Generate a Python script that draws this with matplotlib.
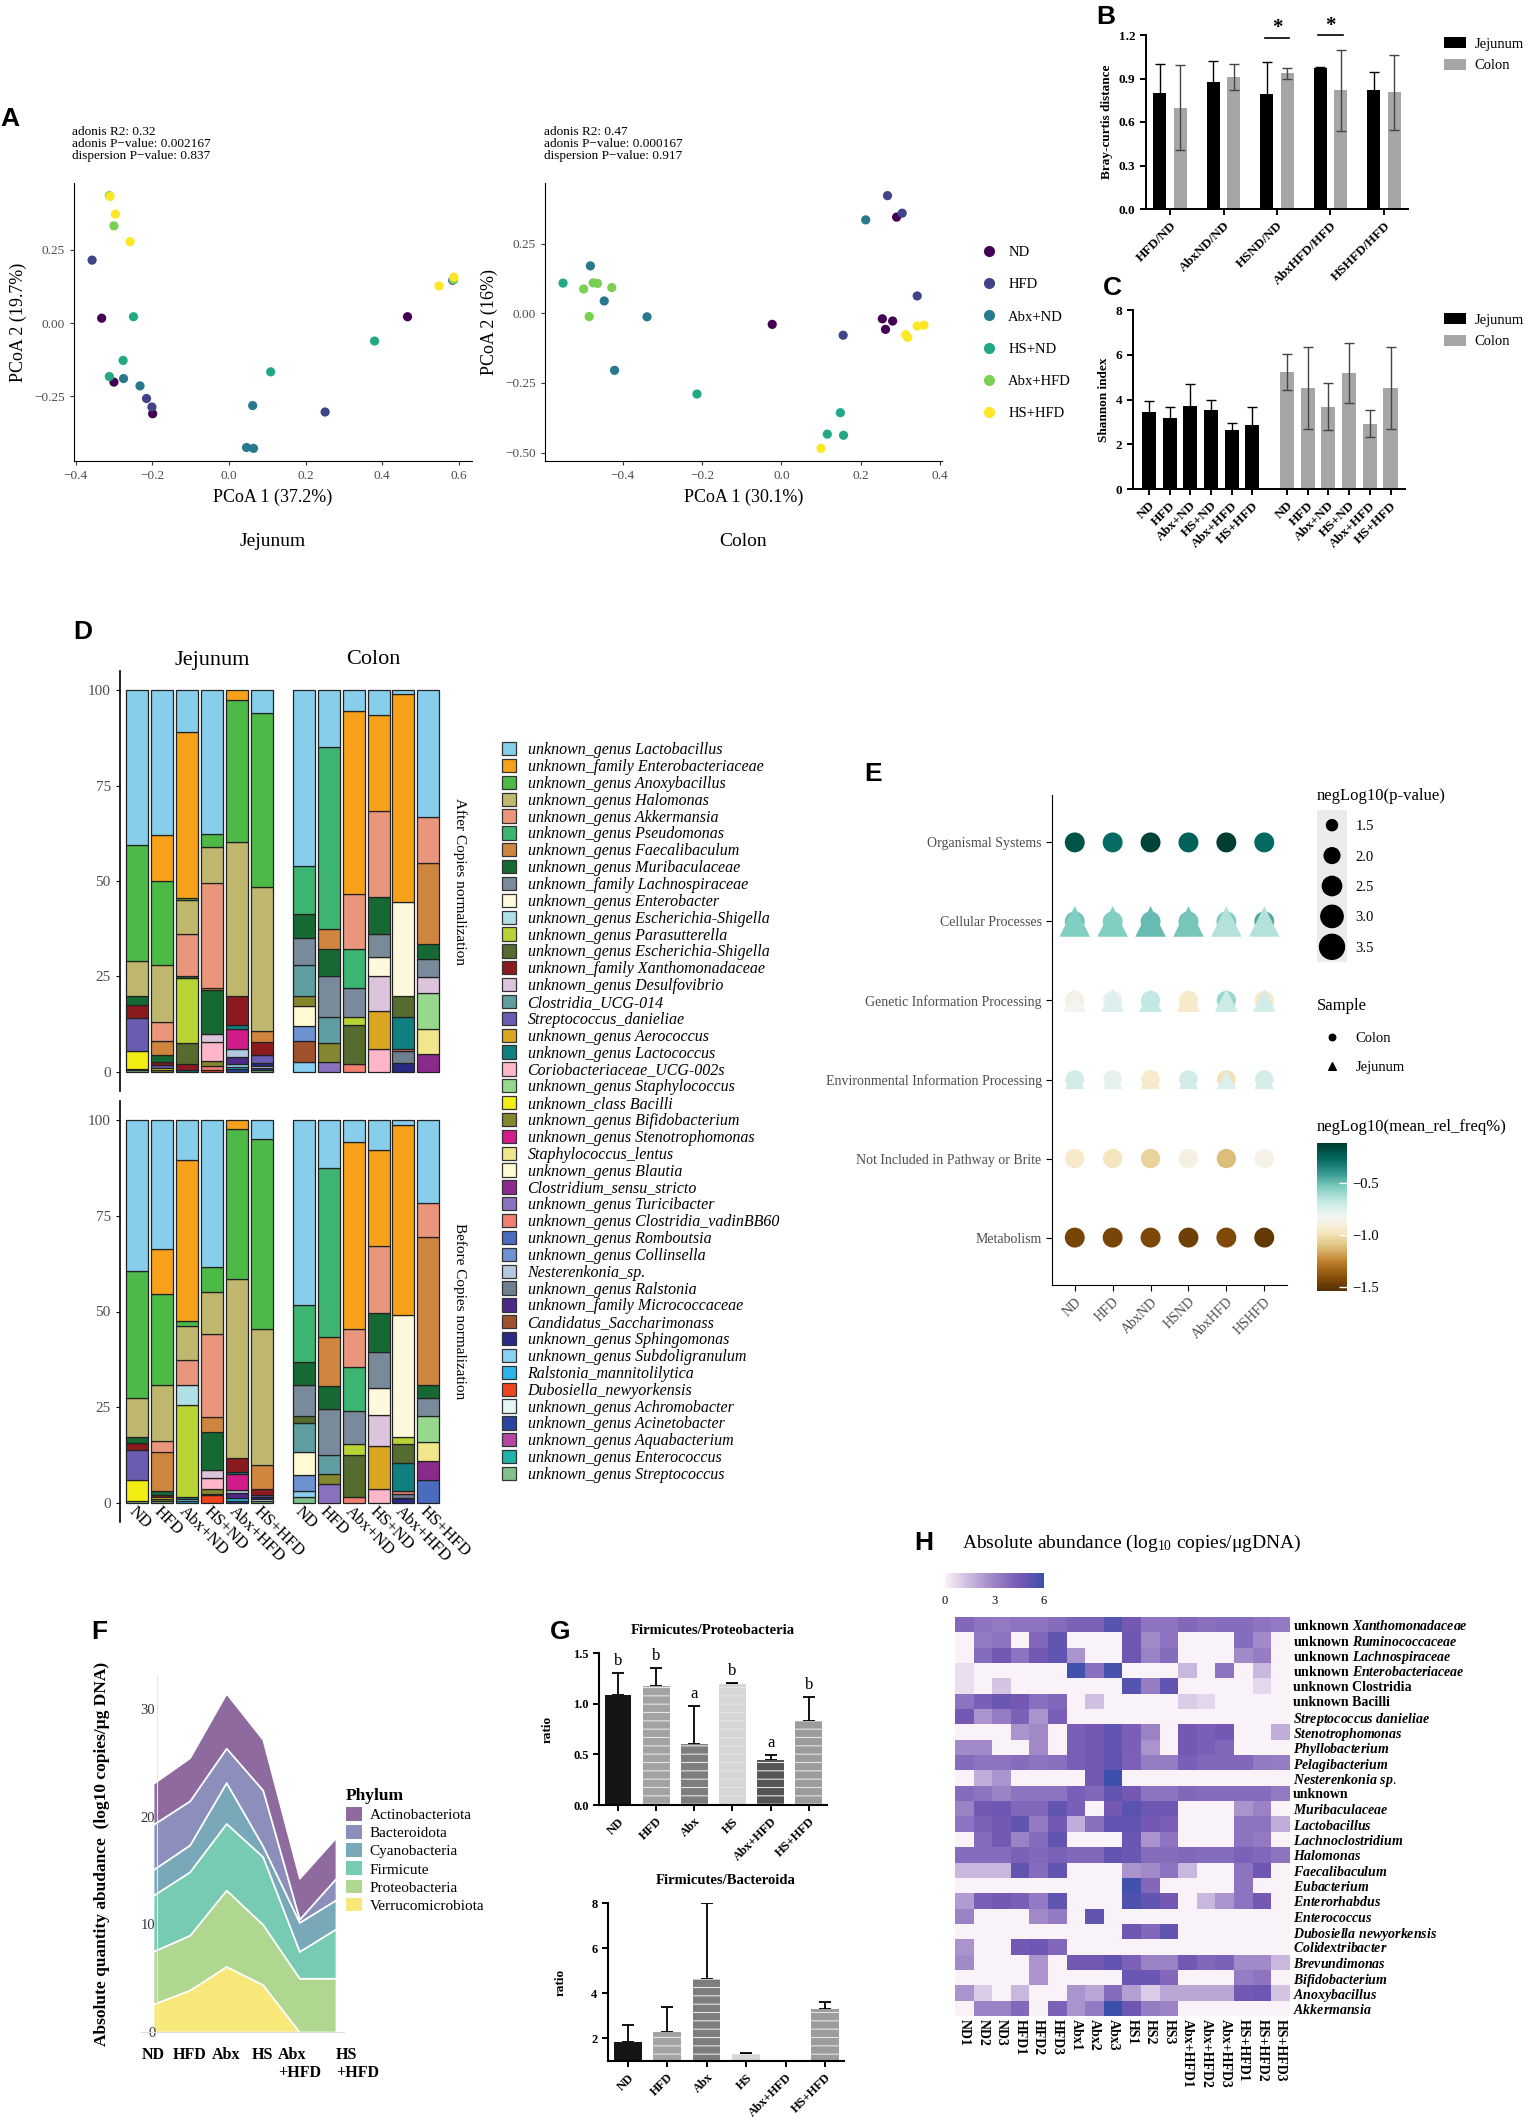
import numpy as np
import matplotlib
matplotlib.use('Agg')
import matplotlib.pyplot as plt
from matplotlib.colors import LinearSegmentedColormap, Normalize
from matplotlib.cm import ScalarMappable
from matplotlib.lines import Line2D
from matplotlib.patches import Rectangle

plt.rcParams['font.family'] = ['Liberation Serif', 'DejaVu Serif']
plt.rcParams['mathtext.fontset'] = 'custom'
plt.rcParams['mathtext.rm'] = 'Liberation Serif'
plt.rcParams['mathtext.it'] = 'Liberation Serif:italic:bold'
plt.rcParams['mathtext.bf'] = 'Liberation Serif:bold'
plt.rcParams['hatch.linewidth'] = 0.8

W, H = 1529, 2118

# ---------------- A: PCoA ----------------
PCOA_GROUPS = ['ND', 'HFD', 'Abx+ND', 'HS+ND', 'Abx+HFD', 'HS+HFD']
JEJ_PC1 = {
    'ND': [-0.332, -0.300, -0.199, 0.466],
    'HFD': [-0.357, -0.215, -0.201, 0.251, 0.584],
    'Abx+ND': [-0.275, -0.232, 0.046, 0.064, 0.062],
    'HS+ND': [-0.249, -0.276, -0.312, 0.109, 0.380],
    'Abx+HFD': [-0.312, -0.300, 0.586],
    'HS+HFD': [-0.310, -0.296, -0.258, 0.548, 0.587],
}
JEJ_PC2 = {
    'ND': [0.017, -0.201, -0.309, 0.022],
    'HFD': [0.215, -0.257, -0.286, -0.303, 0.146],
    'Abx+ND': [-0.189, -0.214, -0.424, -0.427, -0.281],
    'HS+ND': [0.022, -0.127, -0.182, -0.166, -0.061],
    'Abx+HFD': [0.435, 0.332, 0.148],
    'HS+HFD': [0.432, 0.372, 0.278, 0.127, 0.157],
}
COL_PC1 = {
    'ND': [0.291, 0.255, 0.281, 0.263, -0.023],
    'HFD': [0.268, 0.305, 0.343, 0.156],
    'Abx+ND': [0.213, -0.482, -0.447, -0.339, -0.421],
    'HS+ND': [-0.551, -0.213, 0.149, 0.116, 0.157],
    'Abx+HFD': [-0.499, -0.475, -0.464, -0.428, -0.485],
    'HS+HFD': [0.343, 0.360, 0.314, 0.319, 0.100],
}
COL_PC2 = {
    'ND': [0.345, -0.020, -0.028, -0.058, -0.040],
    'HFD': [0.422, 0.359, 0.062, -0.079],
    'Abx+ND': [0.335, 0.170, 0.044, -0.013, -0.205],
    'HS+ND': [0.108, -0.290, -0.357, -0.434, -0.438],
    'Abx+HFD': [0.087, 0.109, 0.107, 0.092, -0.012],
    'HS+HFD': [-0.046, -0.043, -0.077, -0.087, -0.485],
}
JEJ_STATS = 'adonis R2: 0.32\nadonis P\u2212value: 0.002167\ndispersion P\u2212value: 0.837'
COL_STATS = 'adonis R2: 0.47\nadonis P\u2212value: 0.000167\ndispersion P\u2212value: 0.917'

# ---------------- B: Bray-Curtis ----------------
B_PAIRS = ['HFD/ND', 'AbxND/ND', 'HSND/ND', 'AbxHFD/HFD', 'HSHFD/HFD']
B_JEJ = [0.80, 0.875, 0.795, 0.97, 0.82]
B_JEJ_ERR = [0.20, 0.145, 0.22, 0.01, 0.125]
B_COL = [0.70, 0.91, 0.935, 0.82, 0.805]
B_COL_ERR = [0.29, 0.09, 0.037, 0.28, 0.26]
B_SIG_GROUPS = [2, 3]
B_SIG_Y = [1.18, 1.20]

# ---------------- C: Shannon ----------------
C_GROUPS = ['ND', 'HFD', 'Abx+ND', 'HS+ND', 'Abx+HFD', 'HS+HFD']
C_JEJ = [3.46, 3.16, 3.70, 3.55, 2.65, 2.86]
C_JEJ_ERR = [0.47, 0.49, 0.98, 0.41, 0.29, 0.79]
C_COL = [5.22, 4.51, 3.68, 5.18, 2.92, 4.51]
C_COL_ERR = [0.80, 1.84, 1.04, 1.34, 0.60, 1.84]

# ---------------- D: taxa composition ----------------
D_GROUPS = ['ND', 'HFD', 'Abx+ND', 'HS+ND', 'Abx+HFD', 'HS+HFD']
TAXA_KEYS = ['Lacto', 'Enterobac', 'Anoxy', 'Halo', 'Akk', 'Pseudo', 'Faecali', 'Muri',
             'Lachno', 'Enterobacter', 'ES1', 'Parasut', 'ES2', 'Xantho', 'Desulfo',
             'ClostUCG', 'StrepDan', 'Aerococ', 'Lactococ', 'Corio', 'Staph', 'Bacilli',
             'Bifido', 'Steno', 'StaphLen', 'Blautia', 'ClostSS', 'Turici', 'Vadin',
             'Rombout', 'Collin', 'Nester', 'Ralst', 'Micrococ', 'Sacchar', 'Sphingo',
             'Subdoli', 'RalstMann', 'Dubos', 'Achromo', 'Acineto', 'Aquab', 'Enteroc',
             'Strepto']
TAXA_NAMES = [
    'unknown_genus Lactobacillus', 'unknown_family Enterobacteriaceae',
    'unknown_genus Anoxybacillus', 'unknown_genus Halomonas', 'unknown_genus Akkermansia',
    'unknown_genus Pseudomonas', 'unknown_genus Faecalibaculum',
    'unknown_genus Muribaculaceae', 'unknown_family Lachnospiraceae',
    'unknown_genus Enterobacter', 'unknown_genus Escherichia-Shigella',
    'unknown_genus Parasutterella', 'unknown_genus Escherichia-Shigella',
    'unknown_family Xanthomonadaceae', 'unknown_genus Desulfovibrio', 'Clostridia_UCG-014',
    'Streptococcus_danieliae', 'unknown_genus Aerococcus', 'unknown_genus Lactococcus',
    'Coriobacteriaceae_UCG-002s', 'unknown_genus Staphylococcus', 'unknown_class Bacilli',
    'unknown_genus Bifidobacterium', 'unknown_genus Stenotrophomonas',
    'Staphylococcus_lentus', 'unknown_genus Blautia', 'Clostridium_sensu_stricto',
    'unknown_genus Turicibacter', 'unknown_genus Clostridia_vadinBB60',
    'unknown_genus Romboutsia', 'unknown_genus Collinsella', 'Nesterenkonia_sp.',
    'unknown_genus Ralstonia', 'unknown_family Micrococcaceae', 'Candidatus_Saccharimonass',
    'unknown_genus Sphingomonas', 'unknown_genus Subdoligranulum',
    'Ralstonia_mannitolilytica', 'Dubosiella_newyorkensis', 'unknown_genus Achromobacter',
    'unknown_genus Acinetobacter', 'unknown_genus Aquabacterium',
    'unknown_genus Enterococcus', 'unknown_genus Streptococcus',
]
TAXA_COLORS = [
    '#87ceeb', '#f7a11a', '#4dba48', '#c0b76e', '#ea967c', '#3cb572', '#d0853f', '#176934',
    '#798a9a', '#fff8dc', '#b0e0e6', '#b7d334', '#556b2f', '#8b1a1e', '#dcc4dc', '#5f9ea0',
    '#6a5cb0', '#daa520', '#0e8080', '#ffb6c8', '#98d88e', '#f2ee14', '#86862e', '#d21c8a',
    '#f0e68c', '#fffad2', '#8c2a8c', '#8a72c0', '#f28070', '#4a6cbe', '#6c92d2', '#b4c8e0',
    '#6e7f90', '#4b2a88', '#a0522d', '#2a2a86', '#8ad0f0', '#2ab4ec', '#f0441e', '#e6f6f6',
    '#2a44a2', '#b446a8', '#1eb4ac', '#80c28a',
]
D_JEJ_AFTER = {
    'Lacto': [40.5, 38.0, 11.0, 37.6, 0.0, 6.0],
    'Enterobac': [0, 12.0, 43.5, 0, 2.5, 0],
    'Anoxy': [30.5, 22.0, 0.5, 3.4, 37.2, 45.5],
    'Halo': [9.2, 15.0, 9.0, 9.6, 40.5, 37.7],
    'Akk': [0, 5.0, 11.0, 27.4, 0, 0],
    'Faecali': [0, 3.7, 0, 0.6, 0, 2.9],
    'Muri': [2.4, 1.6, 0.5, 11.4, 0, 0],
    'Parasut': [0, 0, 17.0, 0, 0, 0],
    'ES2': [0, 0, 5.3, 0, 0, 0],
    'Xantho': [3.4, 0.8, 1.7, 0, 7.4, 3.6],
    'Desulfo': [0, 0, 0, 2.1, 0, 0],
    'StrepDan': [8.4, 0.8, 0, 0, 0, 1.9],
    'Lactococ': [0, 0, 0.5, 0, 1.1, 0],
    'Corio': [0, 0, 0, 5.0, 0, 0],
    'Bacilli': [4.8, 0.5, 0, 0, 0, 0],
    'Bifido': [0, 0.6, 0, 1.3, 0, 0],
    'Steno': [0, 0, 0, 0, 5.3, 0],
    'Vadin': [0, 0, 0, 1.0, 0, 0],
    'Nester': [0, 0, 0, 0, 2.0, 0],
    'Micrococ': [0, 0, 0, 0, 2.0, 0],
    'Sphingo': [0.4, 0, 0, 0, 0, 0.8],
    'Subdoli': [0, 0, 0, 0, 0.6, 0],
    'RalstMann': [0, 0, 0, 0, 0.7, 0],
    'Dubos': [0, 0, 0, 0.6, 0, 0],
    'Achromo': [0, 0, 0, 0, 0, 0.6],
    'Acineto': [0, 0, 0, 0, 0.7, 0.5],
    'Strepto': [0.4, 0, 0, 0, 0, 0.5],
}
D_COL_AFTER = {
    'Lacto': [46.0, 15.0, 5.5, 6.5, 1.1, 33.3],
    'Enterobac': [0, 0, 47.9, 25.2, 54.4, 0],
    'Akk': [0, 0, 14.4, 22.5, 0, 12.0],
    'Pseudo': [12.7, 47.5, 10.2, 0, 0, 0],
    'Faecali': [0, 5.3, 0, 0, 0, 21.3],
    'Muri': [6.3, 7.0, 0, 9.6, 0, 3.7],
    'Lachno': [7.0, 10.7, 7.5, 6.2, 0, 4.8],
    'Enterobacter': [0, 0, 0, 4.8, 24.5, 0],
    'Parasut': [0, 0, 2.1, 0, 0, 0],
    'ES2': [0, 0, 10.3, 0, 5.5, 0],
    'Desulfo': [0, 0, 0, 9.2, 0, 4.3],
    'ClostUCG': [8.2, 6.9, 0, 0, 0, 0],
    'Aerococ': [0, 0, 0, 10.0, 0, 0],
    'Lactococ': [0, 0, 0, 0, 8.5, 0],
    'Corio': [0, 0, 0, 6.0, 0, 0],
    'Staph': [0, 0, 0, 0, 0, 9.3],
    'Bifido': [2.6, 4.9, 0, 0, 0, 0],
    'StaphLen': [0, 0, 0, 0, 0, 6.5],
    'Blautia': [5.2, 0, 0, 0, 0, 0],
    'ClostSS': [0, 0, 0, 0, 0, 4.8],
    'Turici': [0, 2.7, 0, 0, 0, 0],
    'Vadin': [0, 0, 2.1, 0, 0.5, 0],
    'Collin': [4.0, 0, 0, 0, 0, 0],
    'Ralst': [0, 0, 0, 0, 3.2, 0],
    'Sacchar': [5.3, 0, 0, 0, 0, 0],
    'Sphingo': [0, 0, 0, 0, 2.3, 0],
    'Subdoli': [2.7, 0, 0, 0, 0, 0],
}
D_JEJ_BEFORE = {
    'Lacto': [39.4, 33.6, 10.5, 38.4, 0, 4.8],
    'Enterobac': [0, 11.7, 42.1, 0, 2.4, 0],
    'Anoxy': [33.3, 23.8, 1.1, 6.4, 39.2, 49.7],
    'Halo': [10.1, 14.8, 9.0, 11.0, 46.7, 35.7],
    'Akk': [0, 2.9, 6.4, 21.7, 0, 0],
    'Faecali': [0, 10.0, 0, 4.0, 0, 6.1],
    'Muri': [1.6, 1.1, 0, 10.0, 0, 0],
    'ES1': [0, 0, 5.2, 0, 0, 0],
    'Parasut': [0, 0, 24.1, 0, 0, 0],
    'Xantho': [1.9, 0.5, 0, 0, 3.7, 1.6],
    'Desulfo': [0, 0, 0, 2.1, 0, 0],
    'StrepDan': [7.6, 0, 0, 0, 0, 0.6],
    'Lactococ': [0, 0, 0.5, 0, 0.4, 0],
    'Corio': [0, 0, 0, 2.9, 0, 0],
    'Bacilli': [5.6, 0.6, 0, 0, 0, 0],
    'Bifido': [0, 0.5, 0, 1.1, 0, 0],
    'Steno': [0, 0, 0, 0, 4.3, 0],
    'Vadin': [0, 0, 0, 0.3, 0, 0],
    'Nester': [0, 0, 0, 0, 0.8, 0],
    'Micrococ': [0, 0, 0, 0, 1.3, 0],
    'Sphingo': [0, 0, 0, 0, 0, 0.5],
    'Subdoli': [0, 0, 0.5, 0, 0, 0],
    'RalstMann': [0, 0, 0.6, 0, 0.6, 0],
    'Dubos': [0, 0, 0, 2.1, 0, 0],
    'Achromo': [0, 0, 0, 0, 0, 0.5],
    'Acineto': [0, 0, 0, 0, 0.6, 0],
    'Strepto': [0.5, 0.5, 0, 0, 0, 0.5],
}
D_COL_BEFORE = {
    'Lacto': [48.2, 12.4, 5.6, 7.9, 1.4, 21.7],
    'Enterobac': [0, 0, 48.9, 24.9, 49.6, 0],
    'Akk': [0, 0, 10.1, 17.7, 0, 8.8],
    'Pseudo': [15.1, 44.2, 11.3, 0, 0, 0],
    'Faecali': [0, 12.9, 0, 0, 0, 38.6],
    'Muri': [5.8, 6.1, 0, 10.1, 0, 3.6],
    'Lachno': [8.1, 12.0, 8.8, 9.3, 0, 4.5],
    'Enterobacter': [0, 0, 0, 7.1, 31.8, 0],
    'Parasut': [0, 0, 2.9, 0, 1.9, 0],
    'ES2': [1.9, 0, 10.8, 0, 4.8, 0],
    'Desulfo': [0, 0, 0, 8.2, 0, 0],
    'ClostUCG': [7.6, 4.8, 0, 0, 0, 0],
    'Aerococ': [0, 0, 0, 11.1, 0, 0],
    'Lactococ': [0, 0, 0, 0, 7.3, 0],
    'Corio': [0, 0, 0, 3.7, 0, 0],
    'Staph': [0, 0, 0, 0, 0, 7.0],
    'Bifido': [0, 2.8, 0, 0, 0, 0],
    'StaphLen': [0, 0, 0, 0, 0, 4.9],
    'Blautia': [6.1, 0, 0, 0, 0, 0],
    'ClostSS': [0, 0, 0, 0, 0, 4.8],
    'Turici': [0, 4.8, 0, 0, 0, 0],
    'Vadin': [0, 0, 1.6, 0, 0.8, 0],
    'Rombout': [0, 0, 0, 0, 0, 6.1],
    'Collin': [4.0, 0, 0, 0, 0, 0],
    'Ralst': [0, 0, 0, 0, 1.2, 0],
    'Sphingo': [0, 0, 0, 0, 1.2, 0],
    'Subdoli': [1.6, 0, 0, 0, 0, 0],
    'Strepto': [1.6, 0, 0, 0, 0, 0],
}

# ---------------- E: KEGG dot plot ----------------
E_CATEGORIES = ['Organismal Systems', 'Cellular Processes', 'Genetic Information Processing',
                'Environmental Information Processing', 'Not Included in Pathway or Brite',
                'Metabolism']
E_GROUPS = ['ND', 'HFD', 'AbxND', 'HSND', 'AbxHFD', 'HSHFD']
E_COLON_FREQ = [
    [-0.20, -0.28, -0.15, -0.25, -0.13, -0.27],
    [-0.52, -0.55, -0.50, -0.52, -0.55, -0.45],
    [-0.88, -0.78, -0.68, -0.95, -0.60, -0.95],
    [-0.72, -0.78, -0.95, -0.72, -1.00, -0.73],
    [-0.95, -0.98, -1.05, -0.88, -1.12, -0.87],
    [-1.45, -1.45, -1.44, -1.47, -1.43, -1.50],
]
E_JEJ_FREQ = [
    [-0.20, -0.28, -0.15, -0.25, -0.13, -0.27],
    [-0.55, -0.55, -0.50, -0.53, -0.65, -0.65],
    [-0.85, -0.75, -0.68, -0.95, -0.70, -0.72],
    [-0.72, -0.78, -0.95, -0.72, -0.75, -0.73],
    [-0.95, -0.98, -1.05, -0.88, -1.12, -0.87],
    [-1.45, -1.45, -1.44, -1.47, -1.43, -1.50],
]
E_COLON_P = [
    [2.6, 2.6, 2.6, 2.6, 2.6, 2.6],
    [2.6, 2.6, 2.6, 2.6, 2.6, 2.6],
    [2.5, 2.5, 2.5, 2.5, 2.5, 2.5],
    [2.4, 2.4, 2.4, 2.4, 2.4, 2.4],
    [2.5, 2.5, 2.5, 2.5, 2.5, 2.5],
    [2.6, 2.6, 2.6, 2.6, 2.6, 2.6],
]
E_JEJ_P = [
    [1.5, 1.5, 1.5, 1.5, 1.5, 1.5],
    [3.5, 3.5, 3.5, 3.5, 3.5, 3.5],
    [2.4, 2.4, 2.4, 2.4, 2.4, 2.4],
    [2.0, 2.0, 2.0, 2.0, 2.0, 2.0],
    [1.5, 1.5, 1.5, 1.5, 1.5, 1.5],
    [1.5, 1.5, 1.5, 1.5, 1.5, 1.5],
]
E_SIZE_BREAKS = [1.5, 2.0, 2.5, 3.0, 3.5]

# ---------------- F: phylum abundance ----------------
F_GROUPS = ['ND', 'HFD', 'Abx', 'HS', 'Abx\n+HFD', 'HS\n+HFD']
F_PHYLA = ['Actinobacteriota', 'Bacteroidota', 'Cyanobacteria', 'Firmicute',
           'Proteobacteria', 'Verrucomicrobiota']
F_ACTINO = [3.8, 4.0, 5.1, 4.7, 3.8, 3.8]
F_BACTERO = [4.2, 4.1, 3.2, 5.2, 0.3, 2.0]
F_CYANO = [2.4, 2.5, 3.8, 1.0, 2.7, 2.7]
F_FIRMI = [5.2, 5.9, 6.2, 6.3, 2.5, 4.6]
F_PROTEO = [4.9, 5.1, 7.1, 5.6, 5.0, 5.0]
F_VERRUCO = [2.6, 3.9, 6.1, 4.4, 0.0, 0.0]
F_COLORS = ['#8e6a9e', '#8c8fbc', '#79a9b9', '#77cbb3', '#b0d78f', '#f7e879']

# ---------------- G: ratios ----------------
G_GROUPS = ['ND', 'HFD', 'Abx', 'HS', 'Abx+HFD', 'HS+HFD']
G_FP = [1.09, 1.17, 0.60, 1.19, 0.44, 0.83]
G_FP_ERR = [0.21, 0.18, 0.38, 0.01, 0.05, 0.24]
G_FP_LETTERS = ['b', 'b', 'a', 'b', 'a', 'b']
G_FB = [1.82, 2.25, 4.62, 1.31, 0.0, 3.30]
G_FB_ERR = [0.77, 1.12, 3.40, 0.03, 0.0, 0.29]
G_COLORS = ['#151515', '#a3a3a3', '#7d7d7d', '#d6d6d6', '#555555', '#9c9c9c']

# ---------------- H: heatmap ----------------
H_SAMPLES = ['ND1', 'ND2', 'ND3', 'HFD1', 'HFD2', 'HFD3', 'Abx1', 'Abx2', 'Abx3',
             'HS1', 'HS2', 'HS3', 'Abx+HFD1', 'Abx+HFD2', 'Abx+HFD3',
             'HS+HFD1', 'HS+HFD2', 'HS+HFD3']
H_TAXA = [
    'unknown $\\mathit{Xanthomonadaceae}$', 'unknown $\\mathit{Ruminococcaceae}$',
    'unknown $\\mathit{Lachnospiraceae}$', 'unknown $\\mathit{Enterobacteriaceae}$',
    'unknown Clostridia', 'unknown Bacilli', '$\\mathit{Streptococcus\\ danieliae}$',
    '$\\mathit{Stenotrophomonas}$', '$\\mathit{Phyllobacterium}$', '$\\mathit{Pelagibacterium}$',
    '$\\mathit{Nesterenkonia\\ sp.}$', 'unknown', '$\\mathit{Muribaculaceae}$',
    '$\\mathit{Lactobacillus}$', '$\\mathit{Lachnoclostridium}$', '$\\mathit{Halomonas}$',
    '$\\mathit{Faecalibaculum}$', '$\\mathit{Eubacterium}$', '$\\mathit{Enterorhabdus}$',
    '$\\mathit{Enterococcus}$', '$\\mathit{Dubosiella\\ newyorkensis}$',
    '$\\mathit{Colidextribacter}$', '$\\mathit{Brevundimonas}$', '$\\mathit{Bifidobacterium}$',
    '$\\mathit{Anoxybacillus}$', '$\\mathit{Akkermansia}$',
]
H_VALUES = [
    [4.0, 3.5, 3.3, 3.5, 3.5, 3.8, 4.2, 4.2, 5.3, 4.5, 3.5, 3.5, 4.0, 3.7, 3.8, 3.8, 3.5, 3.3],
    [0.0, 3.3, 3.5, 0.0, 4.0, 5.0, 0.0, 0.0, 0.0, 4.7, 2.8, 3.5, 0.0, 0.0, 0.0, 3.8, 2.8, 0.0],
    [0.0, 3.8, 4.5, 3.5, 4.5, 5.0, 2.5, 0.0, 0.0, 4.7, 3.0, 3.8, 0.0, 0.0, 0.0, 2.8, 3.2, 0.0],
    [0.5, 0.0, 0.0, 0.0, 0.0, 0.0, 5.8, 3.7, 5.7, 0.0, 0.0, 0.0, 1.5, 0.0, 3.5, 0.0, 1.5, 0.0],
    [0.5, 0.0, 1.2, 0.0, 0.0, 0.0, 0.0, 0.0, 0.0, 5.3, 3.2, 5.0, 0.0, 0.0, 0.0, 0.0, 0.7, 0.0],
    [3.5, 4.3, 4.8, 4.5, 3.7, 4.0, 0.0, 1.3, 0.0, 0.0, 0.0, 0.0, 1.0, 0.7, 0.0, 0.0, 0.0, 0.0],
    [4.5, 2.5, 3.2, 4.2, 2.5, 4.3, 0.0, 0.0, 0.0, 0.0, 0.0, 0.0, 0.0, 0.0, 0.0, 0.0, 0.0, 0.0],
    [0.0, 0.0, 0.0, 2.5, 2.8, 0.0, 4.3, 4.5, 5.0, 4.3, 3.0, 0.0, 4.5, 4.3, 4.5, 0.0, 0.0, 1.8],
    [2.8, 2.8, 0.0, 0.0, 2.8, 0.0, 4.3, 4.5, 5.0, 4.3, 2.5, 0.0, 4.5, 4.3, 4.0, 0.0, 0.0, 0.0],
    [3.8, 3.5, 3.5, 3.8, 3.5, 3.7, 4.3, 4.5, 5.0, 4.2, 3.2, 3.2, 4.3, 4.0, 4.0, 4.0, 3.3, 3.2],
    [0.0, 1.8, 2.5, 0.0, 0.0, 0.0, 0.0, 4.5, 6.0, 0.0, 0.0, 0.0, 0.0, 0.0, 0.0, 0.0, 0.0, 0.0],
    [3.8, 3.5, 3.0, 3.5, 3.5, 3.5, 4.3, 4.0, 5.0, 4.5, 3.5, 3.5, 4.0, 3.8, 3.8, 3.8, 3.8, 3.3],
    [3.0, 4.5, 4.7, 4.0, 4.0, 5.0, 4.3, 0.0, 4.5, 5.2, 4.7, 4.7, 0.0, 0.0, 0.0, 2.5, 3.0, 0.0],
    [3.5, 4.2, 4.5, 5.0, 3.3, 4.5, 1.8, 3.7, 5.0, 5.0, 4.5, 4.3, 0.0, 0.0, 0.0, 3.5, 3.5, 1.8],
    [0.0, 3.8, 4.5, 3.0, 3.8, 5.0, 0.0, 0.0, 0.0, 4.8, 2.5, 3.5, 0.0, 0.0, 0.0, 3.5, 3.3, 0.0],
    [3.8, 3.8, 3.8, 4.2, 4.0, 4.2, 4.0, 4.0, 5.0, 4.8, 3.8, 3.8, 4.0, 3.8, 3.8, 4.2, 4.0, 3.5],
    [1.5, 1.5, 1.5, 5.0, 3.8, 5.0, 0.0, 0.0, 0.0, 2.5, 2.8, 3.5, 1.5, 0.0, 0.0, 3.5, 4.7, 0.0],
    [0.0, 0.0, 0.0, 0.0, 0.0, 0.0, 0.0, 0.0, 0.0, 5.8, 4.0, 0.0, 0.0, 0.0, 0.0, 3.5, 0.0, 0.0],
    [2.3, 4.3, 4.5, 4.3, 3.3, 5.0, 0.0, 0.0, 0.0, 5.5, 5.0, 4.5, 0.0, 1.5, 2.5, 3.5, 4.5, 0.0],
    [3.0, 0.0, 0.0, 0.0, 2.8, 3.3, 0.0, 5.0, 0.0, 0.0, 0.0, 0.0, 0.0, 0.0, 0.0, 0.0, 0.0, 0.0],
    [0.0, 0.0, 0.0, 0.0, 0.0, 0.0, 0.0, 0.0, 0.0, 4.7, 4.0, 5.0, 0.0, 0.0, 0.0, 0.0, 0.0, 0.0],
    [2.5, 0.0, 0.0, 4.5, 4.7, 4.0, 0.0, 0.0, 0.0, 0.0, 0.0, 0.0, 0.0, 0.0, 0.0, 0.0, 0.0, 0.0],
    [2.8, 0.0, 0.0, 0.0, 2.5, 0.0, 4.5, 4.5, 5.0, 4.2, 3.0, 3.0, 4.5, 4.0, 4.2, 2.8, 2.8, 1.5],
    [0.0, 0.0, 0.0, 0.0, 2.5, 0.0, 0.0, 0.0, 0.0, 4.8, 4.8, 4.0, 0.0, 0.0, 0.0, 3.2, 3.5, 0.0],
    [2.5, 1.0, 0.0, 1.5, 0.0, 0.0, 2.5, 2.0, 3.8, 2.2, 1.0, 2.0, 2.0, 2.0, 2.0, 4.5, 4.7, 1.2],
    [0.0, 3.0, 3.0, 4.0, 0.0, 4.2, 2.5, 3.3, 6.0, 4.7, 3.2, 3.0, 0.0, 0.0, 0.0, 0.0, 0.0, 0.0],
]

fig = plt.figure(figsize=(W / 100, H / 100), dpi=100)


def ax_px(x0, y0, x1, y1):
    return fig.add_axes([x0 / W, 1 - y1 / H, (x1 - x0) / W, (y1 - y0) / H])


def fxy(x, y):
    return (x / W, 1 - y / H)


def txt(x, y, s, **kw):
    kw.setdefault('ha', 'left')
    kw.setdefault('va', 'center')
    return fig.text(x / W, 1 - y / H, s, **kw)


# panel letters
for lab, (x, y) in zip('ABCDEFGH', [(10, 119), (1106, 17), (1112, 288), (83, 632),
                                     (873, 774), (99, 1632), (560, 1632), (924, 1543)]):
    txt(x, y, lab, ha='center', fontsize=19, fontweight='bold', family='Liberation Sans')

# ---------------- A ----------------
PCOA_COLORS = ['#440154', '#414487', '#2a788e', '#22a884', '#7ad151', '#fde725']


def draw_pcoa(ax, xs, ys, xticks, yticks, xlabel, ylabel):
    for g, c in zip(PCOA_GROUPS, PCOA_COLORS):
        ax.scatter(xs[g], ys[g], s=44, color=c, edgecolors='none', zorder=3)
    ax.margins(0.05)
    ax.spines[['top', 'right']].set_visible(False)
    ax.set_xticks(xticks)
    ax.set_yticks(yticks)
    ax.tick_params(labelsize=9.5, labelcolor='#4d4d4d', length=3, color='#333333')
    ax.set_xlabel(xlabel, fontsize=13, labelpad=5)
    ax.set_ylabel(ylabel, fontsize=13, labelpad=5)


axA1 = ax_px(74, 183, 472, 461)
draw_pcoa(axA1, JEJ_PC1, JEJ_PC2, [-0.4, -0.2, 0, 0.2, 0.4, 0.6], [-0.25, 0, 0.25],
          'PCoA 1 (37.2%)', 'PCoA 2 (19.7%)')
axA2 = ax_px(545, 183, 942, 461)
draw_pcoa(axA2, COL_PC1, COL_PC2, [-0.4, -0.2, 0, 0.2, 0.4], [-0.5, -0.25, 0, 0.25],
          'PCoA 1 (30.1%)', 'PCoA 2 (16%)')
txt(72, 126, JEJ_STATS, va='top', fontsize=9.5, linespacing=1.0)
txt(544, 126, COL_STATS, va='top', fontsize=9.5, linespacing=1.0)
txt(273, 542, 'Jejunum', ha='center', fontsize=14)
txt(743, 542, 'Colon', ha='center', fontsize=14)
handles = [Line2D([], [], marker='o', ls='', markerfacecolor=c, markeredgecolor='none',
                  markersize=8) for c in PCOA_COLORS]
fig.legend(handles, PCOA_GROUPS, loc='upper left', bbox_to_anchor=fxy(982, 246),
           frameon=False, fontsize=10.5, labelspacing=1.3, handlelength=1.0,
           handletextpad=0.8, borderpad=0, borderaxespad=0)

# ---------------- B ----------------
axB = ax_px(1146, 35, 1408, 209)
xb = np.arange(len(B_PAIRS))
axB.bar(xb - 0.19, B_JEJ, 0.24, color='black', zorder=2)
axB.errorbar(xb - 0.19, B_JEJ, yerr=B_JEJ_ERR, fmt='none', ecolor='black', elinewidth=1,
             capsize=3.5, capthick=1, zorder=1)
axB.bar(xb + 0.19, B_COL, 0.24, color='#a6a6a6', zorder=2)
axB.errorbar(xb + 0.19, B_COL, yerr=B_COL_ERR, fmt='none', ecolor='#444444', elinewidth=1,
             capsize=3.5, capthick=1, zorder=3)
for g, y in zip(B_SIG_GROUPS, B_SIG_Y):
    axB.plot([g - 0.23, g + 0.23], [y, y], color='black', lw=1.2, clip_on=False)
    axB.text(g, y + 0.065, '*', ha='center', va='center', fontsize=15, fontweight='bold')
axB.set_xlim(-0.45, 4.45)
axB.set_ylim(0, 1.2)
axB.set_yticks([0, 0.3, 0.6, 0.9, 1.2], labels=['0.0', '0.3', '0.6', '0.9', '1.2'],
               fontweight='bold')
axB.set_xticks(xb, labels=B_PAIRS, rotation=45, ha='right', rotation_mode='anchor',
               fontweight='bold')
axB.set_ylabel('Bray-curtis distance', fontsize=9.5, fontweight='bold', labelpad=4)
axB.spines[['top', 'right']].set_visible(False)
axB.spines[['left', 'bottom']].set_linewidth(1.4)
axB.tick_params(width=1.4, length=4, labelsize=9.5)

# ---------------- C ----------------
axC = ax_px(1133, 310, 1405, 489)
xj = np.arange(len(C_GROUPS))
xc = xj + 6.67
axC.bar(xj, C_JEJ, 0.68, color='black', zorder=2)
axC.errorbar(xj, C_JEJ, yerr=C_JEJ_ERR, fmt='none', ecolor='black', elinewidth=1,
             capsize=3.5, capthick=1, zorder=1)
axC.bar(xc, C_COL, 0.68, color='#a6a6a6', zorder=2)
axC.errorbar(xc, C_COL, yerr=C_COL_ERR, fmt='none', ecolor='#444444', elinewidth=1,
             capsize=3.5, capthick=1, zorder=3)
axC.set_xlim(-0.77, 12.37)
axC.set_ylim(0, 8)
axC.set_yticks([0, 2, 4, 6, 8], labels=['0', '2', '4', '6', '8'], fontweight='bold')
axC.set_xticks(np.concatenate([xj, xc]), labels=C_GROUPS + C_GROUPS, rotation=45,
               ha='right', rotation_mode='anchor', fontweight='bold')
axC.set_ylabel('Shannon index', fontsize=9.5, fontweight='bold', labelpad=4)
axC.spines[['top', 'right']].set_visible(False)
axC.spines[['left', 'bottom']].set_linewidth(1.4)
axC.tick_params(width=1.4, length=4, labelsize=9.5)

for ytop in (37, 313):
    hb = [Rectangle((0, 0), 1, 1, facecolor='black'), Rectangle((0, 0), 1, 1, facecolor='#a6a6a6')]
    fig.legend(hb, ['Jejunum', 'Colon'], loc='upper left', bbox_to_anchor=fxy(1444, ytop),
               frameon=False, fontsize=10.5, labelspacing=0.55, handlelength=1.5,
               handleheight=0.8, handletextpad=0.6, borderpad=0, borderaxespad=0)

# ---------------- D ----------------
D_FACETS = [(D_JEJ_AFTER, (124, 671, 275, 1091), True, False),
            (D_COL_AFTER, (291, 671, 441, 1091), False, False),
            (D_JEJ_BEFORE, (124, 1101, 275, 1522), True, True),
            (D_COL_BEFORE, (291, 1101, 441, 1522), False, True)]
xd = np.arange(len(D_GROUPS))
for data, rect, left, bottom_row in D_FACETS:
    ax = ax_px(*rect)
    base = np.zeros(len(D_GROUPS))
    for key, col in zip(TAXA_KEYS[::-1], TAXA_COLORS[::-1]):
        if key not in data:
            continue
        vals = np.array(data[key], dtype=float)
        m = vals > 0
        ax.bar(xd[m], vals[m], 0.88, bottom=base[m], color=col, edgecolor='#222222',
               linewidth=0.9)
        base += vals
    ax.set_xlim(-0.5, 5.5)
    ax.set_ylim(-5, 105)
    ax.spines[['top', 'right', 'bottom']].set_visible(False)
    if left:
        ax.spines['left'].set_position(('outward', 3))
        ax.spines['left'].set_linewidth(1.2)
        ax.set_yticks([0, 25, 50, 75, 100])
        ax.tick_params(axis='y', labelsize=11, labelcolor='#4d4d4d', length=3)
    else:
        ax.spines['left'].set_visible(False)
        ax.set_yticks([])
    if bottom_row:
        ax.set_xticks(xd, labels=D_GROUPS, rotation=-45, ha='left', va='top',
                      rotation_mode='anchor', fontsize=12)
        ax.tick_params(axis='x', length=0, pad=-13)
    else:
        ax.set_xticks([])
txt(212, 660, 'Jejunum', ha='center', fontsize=16)
txt(373, 660, 'Colon', ha='center', fontsize=16)
txt(460, 881, 'After Copies normalization', ha='center', rotation=270, fontsize=11)
txt(460, 1311, 'Before Copies normalization', ha='center', rotation=270, fontsize=11)
hd = [Rectangle((0, 0), 1, 1, facecolor=c, edgecolor='#333333', linewidth=0.9)
      for c in TAXA_COLORS]
fig.legend(hd, TAXA_NAMES, loc='upper left', bbox_to_anchor=fxy(502, 742), frameon=False,
           prop={'family': 'Liberation Serif', 'style': 'italic', 'size': 11.5},
           labelspacing=0.045, handlelength=0.9, handleheight=0.9, handletextpad=0.7,
           borderpad=0, borderaxespad=0)

# ---------------- E ----------------
axE = ax_px(1052, 795, 1287, 1285)
E_VMIN, E_VMAX = -1.54, -0.12
ny = len(E_CATEGORIES)
gx, gy = np.meshgrid(np.arange(1, len(E_GROUPS) + 1), np.arange(ny, 0, -1))


def p_size(p):
    return 130 * np.asarray(p, dtype=float) - 132


axE.scatter(gx.ravel(), gy.ravel(), s=p_size(E_COLON_P).ravel(),
            c=np.asarray(E_COLON_FREQ).ravel(), cmap='BrBG', vmin=E_VMIN, vmax=E_VMAX,
            marker='o', edgecolors='none', zorder=2)
axE.scatter(gx.ravel(), gy.ravel(), s=1.5 * p_size(E_JEJ_P).ravel(),
            c=np.asarray(E_JEJ_FREQ).ravel(), cmap='BrBG', vmin=E_VMIN, vmax=E_VMAX,
            marker='^', edgecolors='none', zorder=3)
axE.set_xlim(0.4, 6.6)
axE.set_ylim(0.4, 6.6)
axE.set_yticks(np.arange(ny, 0, -1), labels=E_CATEGORIES)
axE.set_xticks(np.arange(1, 7), labels=E_GROUPS, rotation=45, ha='right',
               rotation_mode='anchor')
axE.tick_params(labelsize=10, labelcolor='#4d4d4d', length=4)
axE.spines[['top', 'right']].set_visible(False)

caxE = ax_px(1317, 1143, 1347, 1291)
cbE = fig.colorbar(ScalarMappable(Normalize(E_VMIN, E_VMAX), 'BrBG'), cax=caxE)
cbE.set_ticks([-0.5, -1.0, -1.5], labels=['\u22120.5', '\u22121.0', '\u22121.5'])
cbE.outline.set_visible(False)
caxE.tick_params(color='white', length=6, width=1, direction='in', labelsize=10.5)
txt(1317, 1127, 'negLog10(mean_rel_freq%)', fontsize=12)

axS = ax_px(1317, 810, 1347, 962)
axS.set_facecolor('#ebebeb')
axS.scatter(np.zeros(len(E_SIZE_BREAKS)), np.arange(len(E_SIZE_BREAKS)),
            s=p_size(E_SIZE_BREAKS), color='black')
axS.set_xlim(-0.5, 0.5)
axS.set_ylim(len(E_SIZE_BREAKS) - 0.5, -0.5)
axS.set_xticks([])
axS.yaxis.tick_right()
axS.set_yticks(np.arange(len(E_SIZE_BREAKS)), labels=[f'{b:.1f}' for b in E_SIZE_BREAKS])
axS.tick_params(axis='y', length=0, pad=6, labelsize=10.5)
for s in axS.spines.values():
    s.set_visible(False)
txt(1317, 796, 'negLog10(p-value)', fontsize=12)

axM = ax_px(1317, 1022, 1347, 1080)
axM.scatter([0], [0], s=22, marker='o', color='black')
axM.scatter([0], [1], s=30, marker='^', color='black')
axM.set_xlim(-0.5, 0.5)
axM.set_ylim(1.5, -0.5)
axM.set_xticks([])
axM.yaxis.tick_right()
axM.set_yticks([0, 1], labels=['Colon', 'Jejunum'])
axM.tick_params(axis='y', length=0, pad=6, labelsize=10.5)
axM.patch.set_visible(False)
for s in axM.spines.values():
    s.set_visible(False)
txt(1317, 1006, 'Sample', fontsize=12)

# ---------------- F ----------------
axF = ax_px(141, 1675, 344, 2032)
xf = np.arange(len(F_GROUPS))
axF.stackplot(xf, F_VERRUCO, F_PROTEO, F_FIRMI, F_CYANO, F_BACTERO, F_ACTINO,
              colors=F_COLORS[::-1], edgecolor='white', linewidth=1.2)
axF.set_xlim(-0.33, 5.22)
axF.set_ylim(0, 33.2)
axF.spines[['top', 'right']].set_visible(False)
axF.spines['bottom'].set_color('#dddddd')
axF.spines['left'].set_color('#e6e6e6')
axF.spines['left'].set_position(('data', 0.1))
axF.set_yticks([0, 10, 20, 30])
axF.set_xticks(xf, labels=F_GROUPS, fontweight='bold', fontsize=11.5, linespacing=1.15,
               va='top', multialignment='left')
axF.get_xticklabels()[-1].set_horizontalalignment('left')
axF.tick_params(axis='x', length=0, pad=11)
axF.tick_params(axis='y', length=0, labelsize=10.5, labelcolor='#333333', pad=1)
axF.set_ylabel('Absolute quantity abudance  (log10 copies/\u03bcg DNA)', fontsize=12.5,
               fontweight='bold', labelpad=22)
hf = [Rectangle((0, 0), 1, 1, facecolor=c) for c in F_COLORS]
fig.legend(hf, F_PHYLA, loc='upper left', bbox_to_anchor=fxy(346, 1788), frameon=False,
           fontsize=11, title='Phylum', title_fontproperties={'weight': 'bold', 'size': 12.5},
           alignment='left', labelspacing=0.2, handlelength=1.05, handleheight=1.0,
           handletextpad=0.5, borderpad=0, borderaxespad=0)

# ---------------- G ----------------
xg = np.arange(len(G_GROUPS))


def ratio_axes(ax, vals, errs, title, ylim, yticks, ylabels):
    for i, (v, e, c) in enumerate(zip(vals, errs, G_COLORS)):
        hatch = None if i == 0 else '--'
        ax.bar(i, v, 0.7, color=c, hatch=hatch, edgecolor='#e4e4e4', linewidth=0, zorder=2)
        if v > 0:
            ax.errorbar(i, v, yerr=[[0], [e]], fmt='none', ecolor='black', elinewidth=1.3,
                        capsize=4, capthick=1.3, zorder=1)
    ax.set_xlim(-0.5, 5.48)
    ax.set_ylim(*ylim)
    ax.set_yticks(yticks, labels=ylabels, fontweight='bold')
    ax.set_xticks(xg, labels=G_GROUPS, rotation=45, ha='right', rotation_mode='anchor',
                  fontweight='bold')
    ax.spines[['top', 'right']].set_visible(False)
    ax.spines[['left', 'bottom']].set_linewidth(1.5)
    ax.tick_params(width=1.4, length=4, labelsize=9)
    ax.set_title(title, fontsize=10.5, fontweight='bold', pad=14)
    ax.set_ylabel('ratio', fontsize=9.5, fontweight='bold', labelpad=14)


axG1 = ax_px(599, 1653, 827, 1805)
ratio_axes(axG1, G_FP, G_FP_ERR, 'Firmicutes/Proteobacteria', (0, 1.5),
           [0, 0.5, 1.0, 1.5], ['0.0', '0.5', '1.0', '1.5'])
for i, (v, e, s) in enumerate(zip(G_FP, G_FP_ERR, G_FP_LETTERS)):
    axG1.text(i, v + e + 0.04, s, ha='center', va='bottom', fontsize=12)
axG2 = ax_px(608, 1903, 844, 2061)
ratio_axes(axG2, G_FB, G_FB_ERR, 'Firmicutes/Bacteroida', (0.98, 8),
           [2, 4, 6, 8], ['2', '4', '6', '8'])
axG2.set_ylabel('ratio', fontsize=9.5, fontweight='bold', labelpad=18)

# ---------------- H ----------------
H_CMAP = LinearSegmentedColormap.from_list(
    'abund', ['#f9f2f9', '#cbb8de', '#9c83c6', '#7559b5', '#3b50ab'])
axH = ax_px(955, 1617, 1290, 2016)
axH.imshow(np.asarray(H_VALUES), cmap=H_CMAP, vmin=0, vmax=6, aspect='auto',
           interpolation='nearest')
axH.yaxis.tick_right()
axH.set_yticks(np.arange(len(H_TAXA)), labels=H_TAXA, fontweight='bold')
axH.set_xticks(np.arange(len(H_SAMPLES)), labels=H_SAMPLES, rotation=270, ha='center',
               va='top', fontweight='bold')
axH.tick_params(length=0, labelsize=10, pad=2)
for s in axH.spines.values():
    s.set_visible(False)
caxH = ax_px(945, 1573, 1044, 1588)
cbH = fig.colorbar(ScalarMappable(Normalize(0, 6), H_CMAP), cax=caxH, orientation='horizontal')
cbH.set_ticks([0, 3, 6])
cbH.outline.set_visible(False)
caxH.tick_params(length=0, labelsize=9, pad=5)
txt(962, 1543, 'Absolute abundance (log$_{10}$ copies/\u03bcgDNA)', fontsize=14)

fig.savefig('out.png', dpi=100)
